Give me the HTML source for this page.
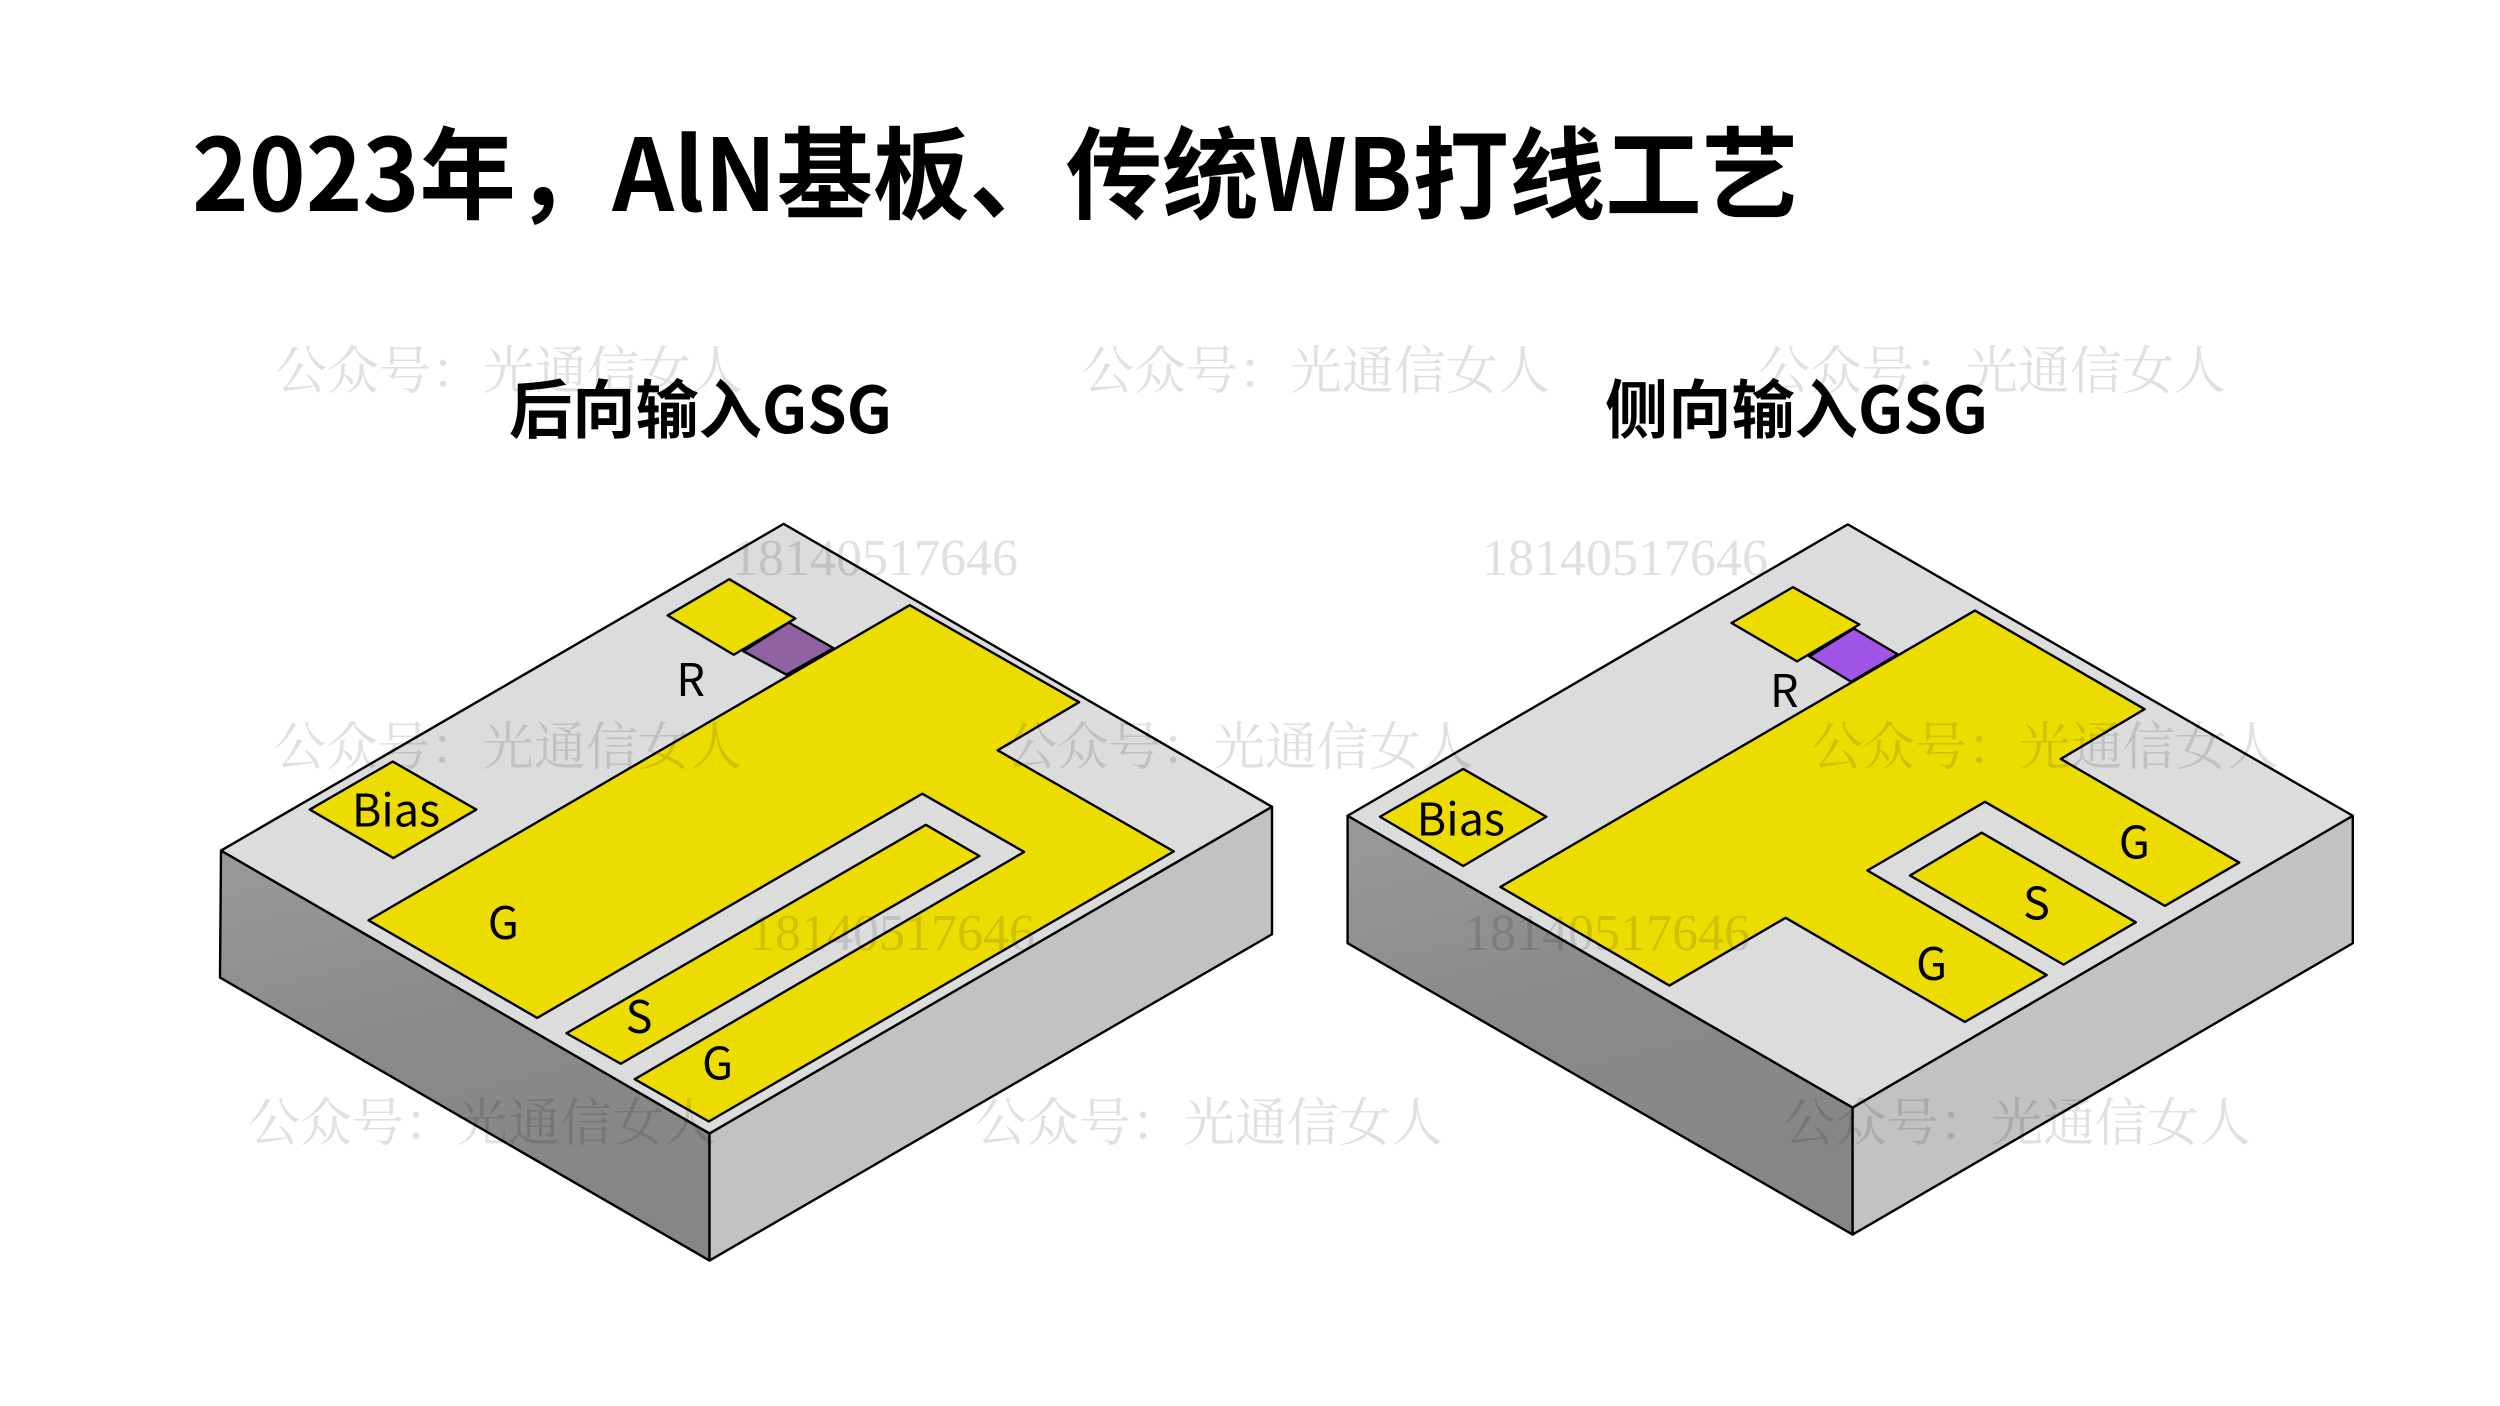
<!DOCTYPE html>
<html><head><meta charset="utf-8"><style>
html,body{margin:0;padding:0;background:#fff}
svg{display:block}
.t{font-family:"Noto Sans CJK SC","Liberation Sans",sans-serif;font-weight:700;fill:#000}
.l{font-family:"Noto Sans CJK SC","Liberation Sans",sans-serif;font-size:45px;fill:#000;text-anchor:middle}
.w{font-family:"Noto Serif CJK SC","Liberation Serif",serif;font-size:52px;fill:#000;fill-opacity:.12}
.n{font-family:"Liberation Serif",serif;font-size:52px;fill:#000;fill-opacity:.12}
polygon{stroke:#000;stroke-width:2.4;stroke-linejoin:round}
</style></head><body>
<svg width="2500" height="1406" viewBox="0 0 2500 1406" xmlns="http://www.w3.org/2000/svg">
<defs>
<linearGradient id="gl" x1="0" y1="0" x2="0.3" y2="1"><stop offset="0" stop-color="#9a9a9a"/><stop offset=".5" stop-color="#8a8a8a"/><stop offset="1" stop-color="#868686"/></linearGradient>
</defs>
<rect width="2500" height="1406" fill="#fff"/>
<text class="t" x="192" y="211" font-size="100" textLength="1606" lengthAdjust="spacingAndGlyphs">2023年&#xFF0C;AlN基板、传统WB打线工艺</text>
<text class="t" x="509" y="433" font-size="64" textLength="383" lengthAdjust="spacingAndGlyphs">后向输入GSG</text>
<text class="t" x="1605" y="433" font-size="64" textLength="383" lengthAdjust="spacingAndGlyphs">侧向输入GSG</text>

<g transform="matrix(1 0 0 .996 0 2)">
<!-- Left block -->
<polygon points="221,852 709.5,1136 709.5,1263.6 220,979.5" fill="url(#gl)"/>
<polygon points="709.5,1136 1272,808 1272,936 709.5,1263.6" fill="#c2c2c2"/>
<polygon points="783.6,524 1272,808 709.5,1136 221,852" fill="#dcdcdc"/>
<polygon points="743.3,651.8 788.7,623 833.5,648.7 786.5,675.4" fill="#8f63a0"/>
<polygon points="729.3,579.5 795.3,619 733.7,655.4 667.7,615.9" fill="#ecdc00"/>
<polygon points="909.7,605.6 1079.1,703 997.7,751.3 1173.8,852.8 708.8,1124 634.7,1081.5 1024.2,853.3 922.2,794.9 537.2,1020 368.5,922" fill="#ecdc00"/>
<polygon points="925.9,826.1 979.4,857.4 620.8,1066 566.5,1035.4" fill="#ecdc00"/>
<polygon points="392.7,762.6 476.3,810.8 393.4,859.5 309.8,810.8" fill="#ecdc00"/>
<text class="l" x="396" y="828">Bias</text>
<text class="l" x="690.7" y="697">R</text>
<text class="l" x="503.4" y="941">G</text>
<text class="l" x="639" y="1035">S</text>
<text class="l" x="717.6" y="1082">G</text>

<!-- Right block -->
<polygon points="1347.6,817 1852.6,1110 1852.6,1237.5 1347.6,945" fill="url(#gl)"/>
<polygon points="1852.6,1110 2352.8,817 2352.8,945 1852.6,1237.5" fill="#c2c2c2"/>
<polygon points="1847.8,524.5 2352.8,817 1852.6,1110 1347.6,817" fill="#dcdcdc"/>
<polygon points="1809.3,657 1853.9,629 1897.8,655 1851.2,682.5" fill="#a055e8"/>
<polygon points="1793,587.5 1859.3,625 1797.1,662 1731.5,623.5" fill="#ecdc00"/>
<polygon points="1974.9,611 2144.6,710 2060.8,760 2239.2,864 2164.9,907.5 1985,803 1867.4,872 2046.6,977 1964.8,1024 1785.6,919.5 1669.4,987.5 1500.4,888.5" fill="#ecdc00"/>
<polygon points="1981.7,834 2135.8,924 2063.5,966.5 1910,877" fill="#ecdc00"/>
<polygon points="1463.2,770 1546.3,818 1463.2,867.5 1380,818" fill="#ecdc00"/>
<text class="l" x="1460.8" y="837">Bias</text>
<text class="l" x="1784.3" y="708">R</text>
<text class="l" x="2134.4" y="860">G</text>
<text class="l" x="2036.4" y="921">S</text>
<text class="l" x="1931.6" y="982">G</text>
</g>

<!-- Watermarks -->
<text class="w" x="275" y="389">公众号&#xFF1A;光通信女人</text>
<text class="w" x="1082" y="389">公众号&#xFF1A;光通信女人</text>
<text class="w" x="1758" y="389">公众号&#xFF1A;光通信女人</text>
<text class="w" x="274" y="765">公众号&#xFF1A;光通信女人</text>
<text class="w" x="1005" y="765">公众号&#xFF1A;光通信女人</text>
<text class="w" x="1811" y="765">公众号&#xFF1A;光通信女人</text>
<text class="w" x="248" y="1141">公众号&#xFF1A;光通信女人</text>
<text class="w" x="975" y="1141">公众号&#xFF1A;光通信女人</text>
<text class="w" x="1783" y="1141">公众号&#xFF1A;光通信女人</text>
<text class="n" x="732" y="575">18140517646</text>
<text class="n" x="1482" y="575">18140517646</text>
<text class="n" x="749" y="950">18140517646</text>
<text class="n" x="1464" y="950">18140517646</text>
</svg>
</body></html>
